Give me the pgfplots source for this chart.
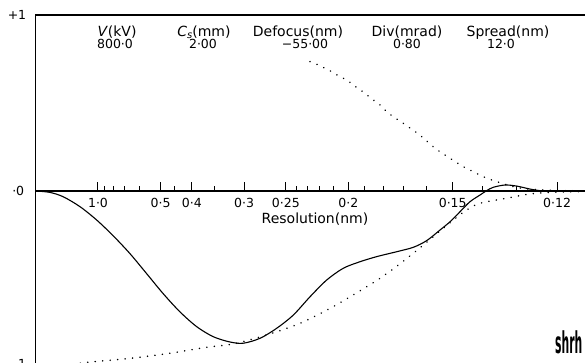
\documentclass[border=0pt]{standalone}
\usepackage{fontspec}
\setmainfont{DejaVu Sans}
\usepackage{pgfplots}
\pgfplotsset{compat=1.18}
\newcommand\hd{\fontsize{14bp}{14bp}\selectfont}
\newcommand\nm{\fontsize{12.5bp}{12.5bp}\selectfont}
\begin{document}
\begin{tikzpicture}
\begin{axis}[
  x=62.6bp, y=176bp,
  xmin=0, xmax=8.78, ymin=-1, ymax=1,
  axis lines=none, ticks=none, clip=false,
  unbounded coords=jump,
]
\coordinate (bl) at ([xshift=-35.4bp]axis cs:0,-0.977);
\coordinate (tr) at ([yshift=15bp]axis cs:8.78,1);
% frame
\draw[line width=1.3bp] (axis cs:0,-1.1) -- (axis cs:0,1) -- (axis cs:8.78,1);
\draw[line width=1.7bp] (axis cs:0,0) -- (axis cs:8.78,0);
% major ticks
\addplot[black, line width=1bp] coordinates {
(1,0) (1,0.05) (1,nan)
(2,0) (2,0.05) (2,nan)
(2.5,0) (2.5,0.05) (2.5,nan)
(3.3333,0) (3.3333,0.05) (3.3333,nan)
(4,0) (4,0.05) (4,nan)
(5,0) (5,0.05) (5,nan)
(6.6667,0) (6.6667,0.05) (6.6667,nan)
(8.3333,0) (8.3333,0.05)
};
% minor ticks
\addplot[black, line width=1bp] coordinates {
(1.1111,0) (1.1111,0.028) (1.1111,nan)
(1.25,0) (1.25,0.028) (1.25,nan)
(1.4286,0) (1.4286,0.028) (1.4286,nan)
(1.6667,0) (1.6667,0.028) (1.6667,nan)
(2.2222,0) (2.2222,0.028) (2.2222,nan)
(2.8571,0) (2.8571,0.028) (2.8571,nan)
(4.1667,0) (4.1667,0.028) (4.1667,nan)
(4.3478,0) (4.3478,0.028) (4.3478,nan)
(4.5455,0) (4.5455,0.028) (4.5455,nan)
(4.7619,0) (4.7619,0.028) (4.7619,nan)
(5.2632,0) (5.2632,0.028) (5.2632,nan)
(5.5556,0) (5.5556,0.028) (5.5556,nan)
(5.8824,0) (5.8824,0.028) (5.8824,nan)
(6.25,0) (6.25,0.028) (6.25,nan)
(7.1429,0) (7.1429,0.028) (7.1429,nan)
(7.6923,0) (7.6923,0.028)
};
% envelopes (dotted)
\addplot[black, line width=1.7bp, line cap=round, dash pattern=on 0.01bp off 7.5bp, smooth] coordinates {
(0,-1) (0.4,-0.992) (0.845,-0.973) (1.511,-0.951) (2.150,-0.922) (2.736,-0.888)
(3.161,-0.869) (3.695,-0.818) (4.227,-0.752) (4.759,-0.657) (5.292,-0.544)
(5.505,-0.496) (5.745,-0.435) (6.037,-0.354) (6.356,-0.260) (6.676,-0.165)
(6.890,-0.108) (7.102,-0.070) (7.529,-0.041) (7.901,-0.017) (8.273,-0.007) (8.78,-0.003)
};
\addplot[black, line width=1.7bp, line cap=round, dash pattern=on 0.01bp off 7.5bp, smooth] coordinates {
(4.387,0.735) (4.519,0.716) (4.733,0.678) (4.866,0.649) (4.973,0.631) (5.078,0.602)
(5.265,0.555) (5.398,0.517) (5.505,0.489) (5.612,0.451) (5.717,0.422) (5.957,0.365)
(6.171,0.309) (6.383,0.243) (6.623,0.186) (6.835,0.138) (6.995,0.110) (7.155,0.081)
(7.369,0.053) (7.74,0.017) (8.2,0.004) (8.78,0)
};
% transfer function
\addplot[black, line width=1.1bp, smooth] coordinates {
(0,0) (0.233,-0.008) (0.446,-0.033) (0.712,-0.089) (0.979,-0.165) (1.244,-0.255)
(1.511,-0.356) (1.778,-0.470) (2.043,-0.584) (2.310,-0.687) (2.577,-0.771)
(2.842,-0.828) (3.109,-0.858) (3.321,-0.865) (3.588,-0.837) (3.855,-0.780)
(4.120,-0.705) (4.387,-0.601) (4.653,-0.506) (4.919,-0.439) (5.185,-0.402)
(5.452,-0.373) (5.772,-0.345) (6.037,-0.320) (6.251,-0.282) (6.463,-0.222)
(6.623,-0.175) (6.783,-0.118) (6.942,-0.061) (7.102,-0.023) (7.209,0.002)
(7.315,0.021) (7.502,0.034) (7.688,0.028) (7.901,0.011) (8.061,0.002) (8.3,0) (8.78,0)
};
% y labels
\node[anchor=east, inner sep=0pt, xshift=-9bp] at (axis cs:0,1) {\nm +1};
\node[anchor=east, inner sep=0pt, xshift=-11bp] at (axis cs:0,0) {\nm ·0};
\node[anchor=east, inner sep=0pt, xshift=-9bp, yshift=3bp] at (axis cs:0,-1) {\nm −1};
% resolution labels
\node[anchor=base, inner sep=0pt] at (axis cs:1,-0.0966) {\nm 1·0};
\node[anchor=base, inner sep=0pt] at (axis cs:2,-0.0966) {\nm 0·5};
\node[anchor=base, inner sep=0pt] at (axis cs:2.5,-0.0966) {\nm 0·4};
\node[anchor=base, inner sep=0pt] at (axis cs:3.3333,-0.0966) {\nm 0·3};
\node[anchor=base, inner sep=0pt] at (axis cs:4,-0.0966) {\nm 0·25};
\node[anchor=base, inner sep=0pt] at (axis cs:5,-0.0966) {\nm 0·2};
\node[anchor=base, inner sep=0pt] at (axis cs:6.6667,-0.0966) {\nm 0·15};
\node[anchor=base, inner sep=0pt] at (axis cs:8.3333,-0.0966) {\nm 0·12};
\node[anchor=base, inner sep=0pt] at (axis cs:4.466,-0.182) {\hd Resolution(nm)};
% header
\node[anchor=base, inner sep=0pt] at (axis cs:1.304,0.875) {\hd \textit{V}(kV)};
\node[anchor=base, inner sep=0pt] at (axis cs:1.272,0.807) {\nm 800·0};
\node[anchor=base, inner sep=0pt] at (axis cs:2.693,0.875) {\hd \textit{C}\raisebox{-1.5bp}{\fontsize{10bp}{10bp}\selectfont\textit{s}}(mm)};
\node[anchor=base, inner sep=0pt] at (axis cs:2.677,0.807) {\nm 2·00};
\node[anchor=base, inner sep=0pt] at (axis cs:4.195,0.875) {\hd Defocus(nm)};
\node[anchor=base, inner sep=0pt] at (axis cs:4.307,0.807) {\nm −55·00};
\node[anchor=base, inner sep=0pt] at (axis cs:5.936,0.875) {\hd Div(mrad)};
\node[anchor=base, inner sep=0pt] at (axis cs:5.936,0.807) {\nm 0·80};
\node[anchor=base, inner sep=0pt] at (axis cs:7.55,0.875) {\hd Spread(nm)};
\node[anchor=base, inner sep=0pt] at (axis cs:7.438,0.807) {\nm 12·0};
% logo
\node[inner sep=0pt, xscale=0.36] at (axis cs:8.52,-0.86) {\fontsize{30bp}{30bp}\selectfont\bfseries shrh};
\end{axis}
\pgfresetboundingbox
\path[use as bounding box] (bl) rectangle (tr);
\end{tikzpicture}
\end{document}
